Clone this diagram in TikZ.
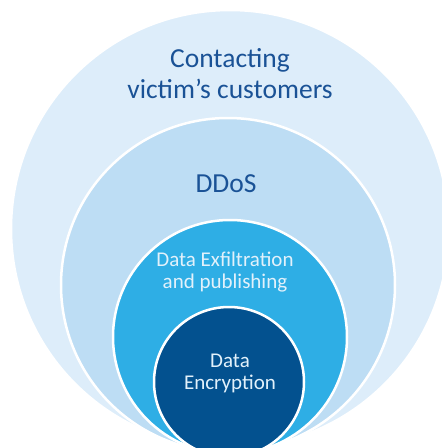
\documentclass[tikz,border=0pt]{standalone}
\usepackage{fontspec}
\usepackage{xcolor}
\usepackage{tikz}
\setmainfont{Carlito}

\definecolor{ringA}{HTML}{DDEDFA}
\definecolor{ringB}{HTML}{BDDDF4}
\definecolor{ringC}{HTML}{2EAEE5}
\definecolor{ringD}{HTML}{03518F}
\definecolor{darktext}{HTML}{1A5296}
\definecolor{lighttext}{HTML}{E2F1FB}

\tikzset{
  ring/.style={draw=white, line width=2.5pt},
  outerlabel/.style={text=darktext, align=center, font=\fontsize{27.5}{31}\selectfont},
  innerlabel/.style={text=lighttext, align=center, font=\fontsize{21}{22}\selectfont}
}

\begin{document}
	\begin{tikzpicture}[x=1pt, y=-1pt]
		\useasboundingbox (0,0) rectangle (442,448);
		\clip (0,0) rectangle (442,448);
		\fill[white] (0,0) rectangle (442,448);
		\draw[ring, fill=ringA] (230,229) circle (219);
		\draw[ring, fill=ringB] (228,285) circle (167);
		\draw[ring, fill=ringC] (230,337) circle (117);
		\draw[ring, fill=ringD] (229,382) circle (75);
		\node[outerlabel] (contact) at (230,74) {Contacting\\victim’s customers};
		\node[outerlabel] (ddos) at (226,184) {DDoS};
		\node[innerlabel] (exfil) at (225,272) {Data Exfiltration\\and publishing};
		\node[innerlabel] (encrypt) at (230,373) {Data\\Encryption};
		
	\end{tikzpicture}
\end{document}
